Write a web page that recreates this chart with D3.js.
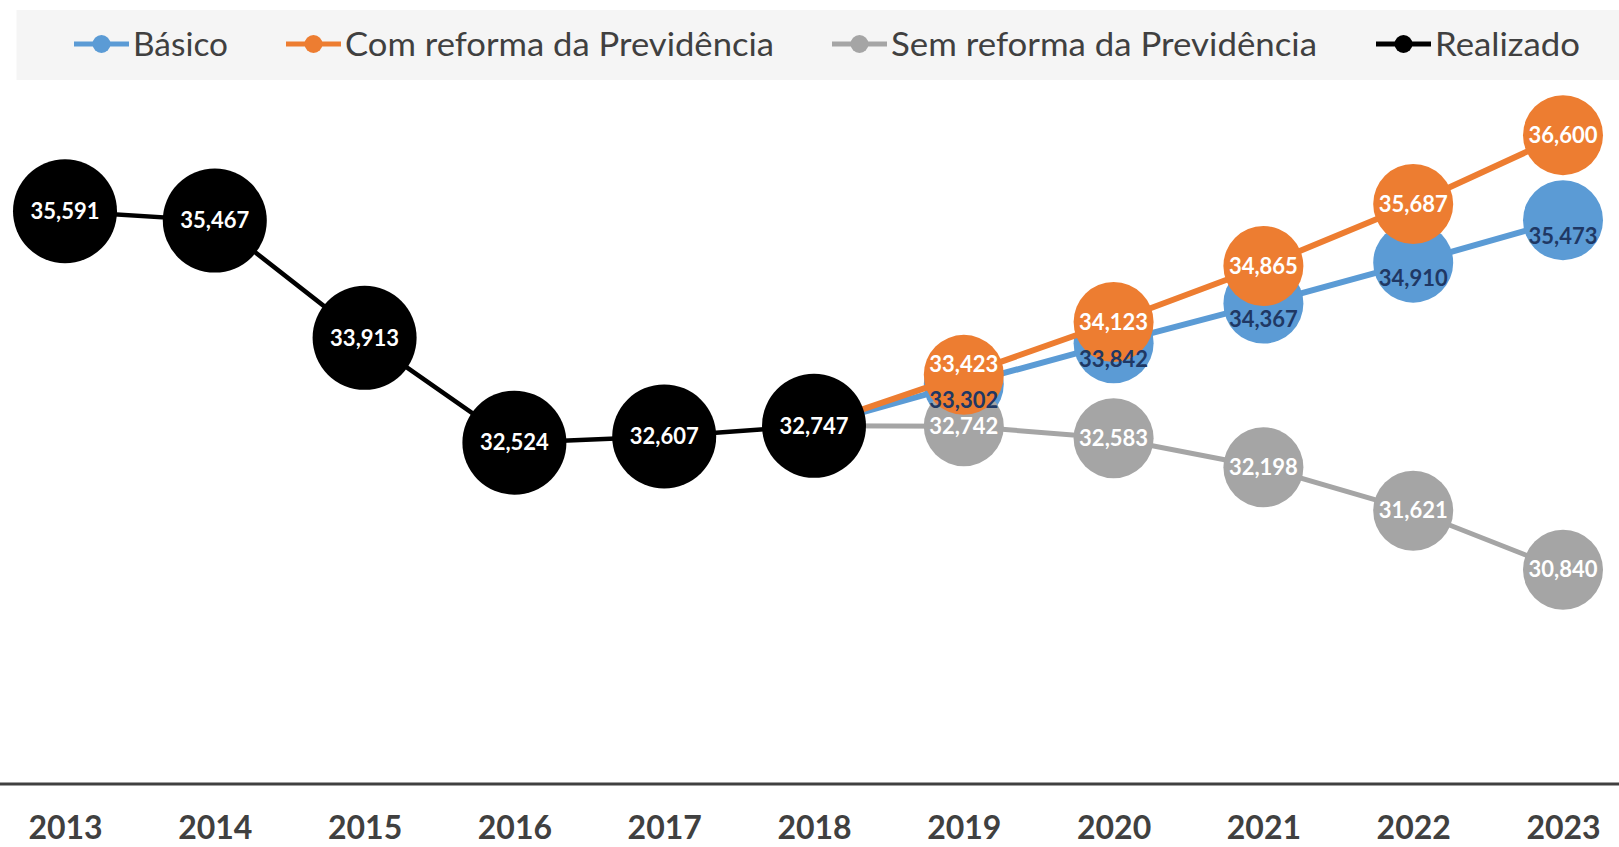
<!DOCTYPE html>
<html><head><meta charset="utf-8">
<script src="https://cdn.jsdelivr.net/npm/d3@7"></script>
<style>
html,body{margin:0;padding:0;background:#fff;}
svg{display:block;}
</style></head>
<body>
<svg id="chart" width="1619" height="847"></svg>
<script>
// ---- data ----
const years = ["2013","2014","2015","2016","2017","2018","2019","2020","2021","2022","2023"];
const realizado = [35591,35467,33913,32524,32607,32747,null,null,null,null,null];
const basico     = [null,null,null,null,null,32747,33302,33842,34367,34910,35473];
const comReforma = [null,null,null,null,null,32747,33423,34123,34865,35687,36600];
const semReforma = [null,null,null,null,null,32747,32742,32583,32198,31621,30840];
const seriesNames = ["Básico","Com reforma da Previdência","Sem reforma da Previdência","Realizado"];

const W = 1619, H = 847;
const svg = d3.select("#chart");
const x = d3.scalePoint().domain(years).range([65, 1563]);
const y = d3.scaleLinear().domain([28000, 38000]).range([784, 29.5]);

const FONT = "Lato, 'Open Sans', sans-serif";
const colors = {b:"#5B9BD5", c:"#ED7D31", s:"#A5A5A5", r:"#000000"};

// axis
const axisY = 784;
svg.append("line").attr("x1",0).attr("x2",W).attr("y1",axisY).attr("y2",axisY)
  .attr("stroke","#404040").attr("stroke-width",3);
const ax = svg.append("g").attr("transform",`translate(0,${axisY})`)
  .call(d3.axisBottom(x).tickSize(0).tickPadding(0));
ax.select(".domain").remove();
ax.selectAll("text").attr("y",44).attr("dy","0.35em")
  .attr("font-family",FONT).attr("font-weight","bold").attr("font-size",32).attr("fill","#404040");

function mk(vals){ return years.map((yr,i)=>({yr, v: vals[i], i})).filter(d=>d.v!==null); }
const line = d3.line().x(d=>x(d.yr)).y(d=>y(d.v));

const S = {
  b:{data:mk(basico), color:colors.b, w:6, r:40},
  c:{data:mk(comReforma), color:colors.c, w:6, r:40},
  s:{data:mk(semReforma), color:colors.s, w:5, r:40},
  r:{data:mk(realizado), color:colors.r, w:4.5, r:52}
};
const order = ["b","s","c","r"];
order.forEach(k=>{
  const s = S[k];
  const g = svg.append("g");
  g.append("path").datum(s.data).attr("d",line).attr("fill","none")
    .attr("stroke",s.color).attr("stroke-width",s.w);
  const pts = k==="r" ? s.data : s.data.filter(d=>d.yr!=="2018");
  g.selectAll("circle").data(pts).join("circle")
    .attr("cx",d=>x(d.yr)).attr("cy",d=>y(d.v)).attr("r",s.r).attr("fill",s.color);
});

// labels
const fmt = d3.format(",");
function labels(k, yFn, fill){
  const s = S[k];
  const pts = k==="r" ? s.data : s.data.filter(d=>d.yr!=="2018");
  svg.append("g").selectAll("text").data(pts).join("text")
    .attr("x",d=>x(d.yr)).attr("y",yFn).attr("dy","0.35em")
    .attr("text-anchor","middle").attr("font-family",FONT).attr("font-weight","bold")
    .attr("font-size",22).attr("fill",fill).text(d=>fmt(d.v));
}
const blueLabelY = d=> y(d.v)+16;
labels("b", blueLabelY, "#1F3864");
labels("s", d=>y(d.v), "#ffffff");
labels("c", d=>{
  const bv = basico[d.i];
  const c = y(d.v);
  return bv==null ? c : Math.min(c, y(bv)+16-36);
}, "#ffffff");
labels("r", d=>y(d.v), "#ffffff");

// legend
const leg = svg.append("g");
leg.append("rect").attr("x",16.5).attr("y",10).attr("width",W-16.5).attr("height",70).attr("fill","#f5f5f5");
const legItems = [
  {name:seriesNames[0], color:colors.b, x:74, tl:95},
  {name:seriesNames[1], color:colors.c, x:286, tl:429},
  {name:seriesNames[2], color:colors.s, x:832, tl:426},
  {name:seriesNames[3], color:colors.r, x:1376, tl:145}
];
const legY = 44;
legItems.forEach(it=>{
  leg.append("line").attr("x1",it.x).attr("x2",it.x+55).attr("y1",legY).attr("y2",legY)
    .attr("stroke",it.color).attr("stroke-width",5);
  leg.append("circle").attr("cx",it.x+27.5).attr("cy",legY).attr("r",9).attr("fill",it.color);
  leg.append("text").attr("x",it.x+59).attr("y",legY).attr("dy","0.35em")
    .attr("font-family",FONT).attr("font-size",33).attr("fill","#404040")
    .attr("textLength",it.tl).attr("lengthAdjust","spacingAndGlyphs").text(it.name);
});
</script>
</body></html>
